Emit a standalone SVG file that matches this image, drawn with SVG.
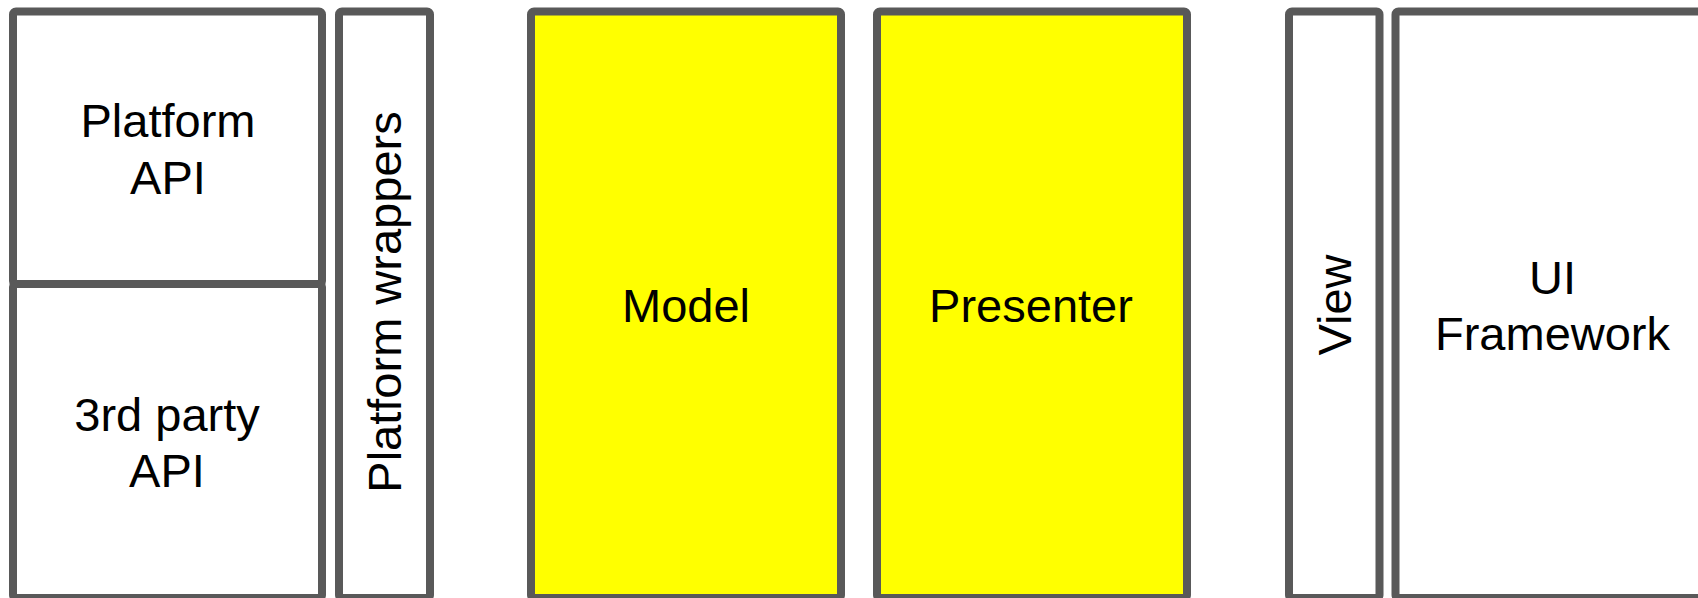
<svg xmlns="http://www.w3.org/2000/svg" width="1698" height="598" viewBox="0 0 1698 598">
<style>
.box{fill:#ffffff;stroke:#595959;stroke-width:8}
.yel{fill:#ffff00;stroke:#595959;stroke-width:8}
text{font-family:"Liberation Sans",Arial,sans-serif;font-size:47px;fill:#000000;text-anchor:middle}
</style>
<rect width="1698" height="598" fill="#ffffff"/>
<g id="platform-api">
<rect class="box" x="13" y="11.5" width="309" height="272.5" rx="3"/>
<text x="168" y="137">Platform</text>
<text x="168" y="194">API</text>
</g>
<g id="third-party-api">
<rect class="box" x="13" y="284" width="309" height="314" rx="3"/>
<text x="167" y="431">3rd party</text>
<text x="167" y="487">API</text>
</g>
<g id="platform-wrappers">
<rect class="box" x="339" y="11.5" width="91" height="586.5" rx="3"/>
<text transform="translate(401,302) rotate(-90)">Platform wrappers</text>
</g>
<g id="model">
<rect class="yel" x="531" y="11.5" width="310" height="586.5" rx="3"/>
<text x="686" y="322">Model</text>
</g>
<g id="presenter">
<rect class="yel" x="877" y="11.5" width="310" height="586.5" rx="3"/>
<text x="1031" y="322">Presenter</text>
</g>
<g id="view">
<rect class="box" x="1289" y="11.5" width="90.5" height="586.5" rx="3"/>
<text transform="translate(1351,305) rotate(-90)">View</text>
</g>
<g id="ui-framework">
<rect class="box" x="1395.5" y="11.5" width="314" height="586.5" rx="3"/>
<text x="1552.5" y="294">UI</text>
<text x="1552.5" y="350">Framework</text>
</g>
<g id="connectors"></g>
</svg>
